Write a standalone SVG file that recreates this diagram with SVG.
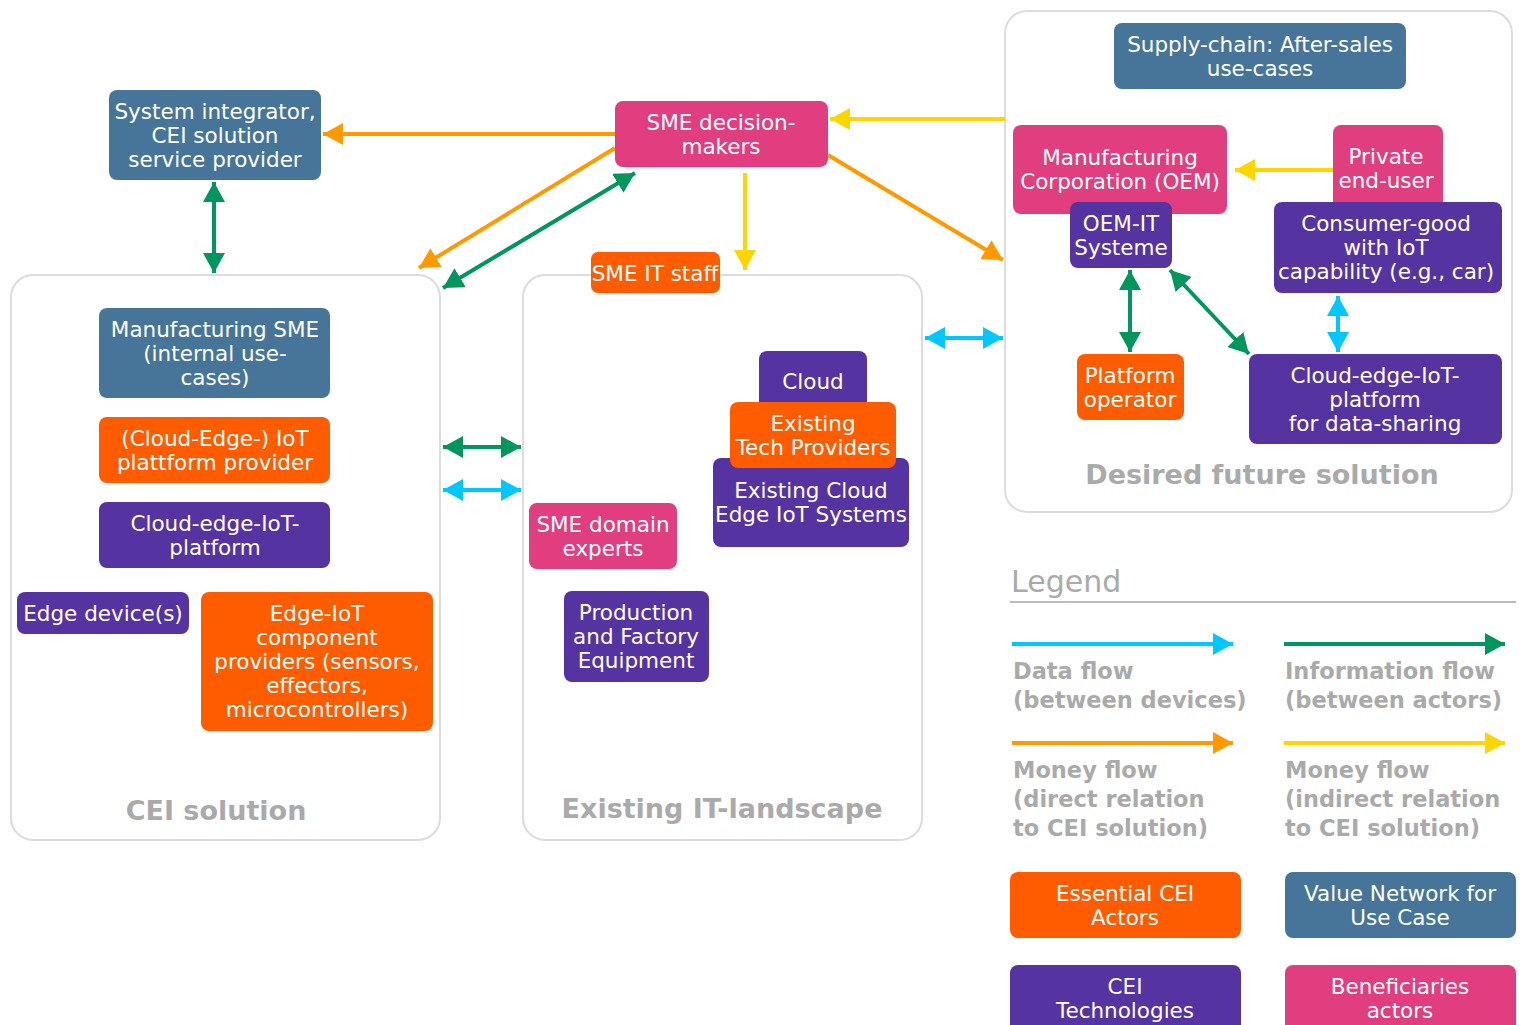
<svg xmlns="http://www.w3.org/2000/svg" width="1521" height="1025" viewBox="0 0 1521 1025">
<style>
.n text{font-family:"DejaVu Sans","Noto Sans",sans-serif;font-size:21.5px;fill:#fff;text-anchor:middle;dominant-baseline:central}
.blue{fill:#467599}.pink{fill:#e03e7e}.org{fill:#ff5c00}.pur{fill:#5533a0}
.grp{fill:#fff;stroke:#dcdcdc;stroke-width:2}
.glab{font-family:"DejaVu Sans","Noto Sans",sans-serif;font-weight:bold;font-size:27px;fill:#aaaaaa;text-anchor:middle;dominant-baseline:central}
.leg{font-family:"DejaVu Sans","Noto Sans",sans-serif;font-weight:bold;font-size:22.5px;fill:#aaaaaa;dominant-baseline:central}
.c{fill:none;stroke-width:4}
.cy{stroke:#00c8ff}.gr{stroke:#00965e}.or{stroke:#ff9900}.ye{stroke:#ffd500}
</style>
<defs>
<marker id="mcy" markerUnits="userSpaceOnUse" markerWidth="22" markerHeight="24" refX="20" refY="11" orient="auto-start-reverse"><path d="M0,0 L20,11 L0,22 z" fill="#00c8ff"/></marker>
<marker id="mgr" markerUnits="userSpaceOnUse" markerWidth="22" markerHeight="24" refX="20" refY="11" orient="auto-start-reverse"><path d="M0,0 L20,11 L0,22 z" fill="#00965e"/></marker>
<marker id="mor" markerUnits="userSpaceOnUse" markerWidth="22" markerHeight="24" refX="20" refY="11" orient="auto-start-reverse"><path d="M0,0 L20,11 L0,22 z" fill="#ff9900"/></marker>
<marker id="mye" markerUnits="userSpaceOnUse" markerWidth="22" markerHeight="24" refX="20" refY="11" orient="auto-start-reverse"><path d="M0,0 L20,11 L0,22 z" fill="#ffd500"/></marker>
</defs>
<rect width="1521" height="1025" fill="#fff"/>

<g id="groups">
<rect class="grp" x="11" y="275" width="429" height="565" rx="22"/>
<text class="glab" x="216" y="810">CEI solution</text>
<rect class="grp" x="523" y="275" width="399" height="565" rx="22"/>
<text class="glab" x="722" y="808">Existing IT-landscape</text>
<rect class="grp" x="1005" y="11" width="507" height="501" rx="22"/>
<text class="glab" x="1262" y="474">Desired future solution</text>
</g>

<g id="connectors">
<line class="c or" x1="615" y1="134" x2="323" y2="134" marker-end="url(#mor)"/>
<line class="c or" x1="615" y1="148" x2="419" y2="268" marker-end="url(#mor)"/>
<line class="c gr" x1="443" y1="288" x2="635" y2="173" marker-start="url(#mgr)" marker-end="url(#mgr)"/>
<line class="c ye" x1="745" y1="173" x2="745" y2="270" marker-end="url(#mye)"/>
<line class="c or" x1="828" y1="155" x2="1003" y2="260" marker-end="url(#mor)"/>
<line class="c ye" x1="1005" y1="119" x2="830" y2="119" marker-end="url(#mye)"/>
<line class="c gr" x1="214" y1="182" x2="214" y2="273" marker-start="url(#mgr)" marker-end="url(#mgr)"/>
<line class="c gr" x1="443" y1="447" x2="521" y2="447" marker-start="url(#mgr)" marker-end="url(#mgr)"/>
<line class="c cy" x1="443" y1="490" x2="521" y2="490" marker-start="url(#mcy)" marker-end="url(#mcy)"/>
<line class="c cy" x1="925" y1="338" x2="1003" y2="338" marker-start="url(#mcy)" marker-end="url(#mcy)"/>
<line class="c ye" x1="1333" y1="170" x2="1235" y2="170" marker-end="url(#mye)"/>
<line class="c gr" x1="1130" y1="270" x2="1130" y2="352" marker-start="url(#mgr)" marker-end="url(#mgr)"/>
<line class="c gr" x1="1170" y1="270" x2="1249" y2="354" marker-start="url(#mgr)" marker-end="url(#mgr)"/>
<line class="c cy" x1="1338" y1="296" x2="1338" y2="352" marker-start="url(#mcy)" marker-end="url(#mcy)"/>
</g>

<g id="system-integrator" class="n"><rect class="blue" x="109" y="90" width="212" height="90" rx="8"/><text x="215" y="111">System integrator,</text><text x="215" y="135">CEI solution</text><text x="215" y="159">service provider</text></g>
<g id="sme-decision-makers" class="n"><rect class="pink" x="615" y="101" width="213" height="66" rx="8"/><text x="721" y="122">SME decision-</text><text x="721" y="146">makers</text></g>
<g id="sme-it-staff" class="n"><rect class="org" x="591" y="252" width="129" height="41" rx="7"/><text x="655" y="273">SME IT staff</text></g>

<g id="manufacturing-sme" class="n"><rect class="blue" x="99" y="308" width="231" height="90" rx="8"/><text x="215" y="329">Manufacturing SME</text><text x="215" y="353">(internal use-</text><text x="215" y="377">cases)</text></g>
<g id="iot-plattform-provider" class="n"><rect class="org" x="99" y="417" width="231" height="66" rx="8"/><text x="215" y="438">(Cloud-Edge-) IoT</text><text x="215" y="462">plattform provider</text></g>
<g id="cloud-edge-iot-platform" class="n"><rect class="pur" x="99" y="502" width="231" height="66" rx="8"/><text x="215" y="523">Cloud-edge-IoT-</text><text x="215" y="547">platform</text></g>
<g id="edge-devices" class="n"><rect class="pur" x="17" y="592" width="172" height="42" rx="8"/><text x="103" y="613">Edge device(s)</text></g>
<g id="edge-iot-providers" class="n"><rect class="org" x="201" y="592" width="232" height="139" rx="8"/><text x="317" y="613">Edge-IoT</text><text x="317" y="637">component</text><text x="317" y="661">providers (sensors,</text><text x="317" y="685">effectors,</text><text x="317" y="709">microcontrollers)</text></g>

<g id="cloud" class="n"><rect class="pur" x="759" y="351" width="108" height="70" rx="8"/><text x="813" y="381">Cloud</text></g>
<g id="existing-cloud-edge-iot" class="n"><rect class="pur" x="713" y="458" width="196" height="89" rx="8"/><text x="811" y="490">Existing Cloud</text><text x="811" y="514">Edge IoT Systems</text></g>
<g id="existing-tech-providers" class="n"><rect class="org" x="730" y="402" width="166" height="66" rx="8"/><text x="813" y="423">Existing</text><text x="813" y="447">Tech Providers</text></g>
<g id="sme-domain-experts" class="n"><rect class="pink" x="529" y="503" width="148" height="66" rx="8"/><text x="603" y="524">SME domain</text><text x="603" y="548">experts</text></g>
<g id="production-equipment" class="n"><rect class="pur" x="564" y="591" width="145" height="91" rx="8"/><text x="636" y="612">Production</text><text x="636" y="636">and Factory</text><text x="636" y="660">Equipment</text></g>

<g id="supply-chain" class="n"><rect class="blue" x="1114" y="23" width="292" height="66" rx="8"/><text x="1260" y="44">Supply-chain: After-sales</text><text x="1260" y="68">use-cases</text></g>
<g id="oem" class="n"><rect class="pink" x="1013" y="125" width="214" height="89" rx="8"/><text x="1120" y="157">Manufacturing</text><text x="1120" y="181">Corporation (OEM)</text></g>
<g id="oem-it" class="n"><rect class="pur" x="1070" y="202" width="102" height="66" rx="8"/><text x="1121" y="223">OEM-IT</text><text x="1121" y="247">Systeme</text></g>
<g id="private-end-user" class="n"><rect class="pink" x="1333" y="125" width="110" height="85" rx="8"/><text x="1386" y="156">Private</text><text x="1386" y="180">end-user</text></g>
<g id="consumer-good" class="n"><rect class="pur" x="1274" y="202" width="228" height="91" rx="8"/><text x="1386" y="223">Consumer-good</text><text x="1386" y="247">with IoT</text><text x="1386" y="271">capability (e.g., car)</text></g>
<g id="platform-operator" class="n"><rect class="org" x="1077" y="354" width="107" height="66" rx="8"/><text x="1130" y="375">Platform</text><text x="1130" y="399">operator</text></g>
<g id="data-sharing-platform" class="n"><rect class="pur" x="1249" y="354" width="253" height="90" rx="8"/><text x="1375" y="375">Cloud-edge-IoT-</text><text x="1375" y="399">platform</text><text x="1375" y="423">for data-sharing</text></g>

<g id="legend">
<text x="1011" y="581" style="font-family:'DejaVu Sans',sans-serif;font-size:30px;fill:#aaaaaa;dominant-baseline:central">Legend</text>
<line x1="1010" y1="602" x2="1516" y2="602" stroke="#bbbbbb" stroke-width="2"/>
<line class="c cy" x1="1012" y1="644" x2="1233" y2="644" marker-end="url(#mcy)"/>
<line class="c gr" x1="1284" y1="644" x2="1505" y2="644" marker-end="url(#mgr)"/>
<line class="c or" x1="1012" y1="743" x2="1233" y2="743" marker-end="url(#mor)"/>
<line class="c ye" x1="1284" y1="743" x2="1505" y2="743" marker-end="url(#mye)"/>
<text class="leg" x="1013" y="671">Data flow</text><text class="leg" x="1013" y="700">(between devices)</text>
<text class="leg" x="1285" y="671">Information flow</text><text class="leg" x="1285" y="700">(between actors)</text>
<text class="leg" x="1013" y="770">Money flow</text><text class="leg" x="1013" y="799">(direct relation</text><text class="leg" x="1013" y="828">to CEI solution)</text>
<text class="leg" x="1285" y="770">Money flow</text><text class="leg" x="1285" y="799">(indirect relation</text><text class="leg" x="1285" y="828">to CEI solution)</text>
</g>
<g id="legend-essential" class="n"><rect class="org" x="1010" y="872" width="231" height="66" rx="8"/><text x="1125" y="893">Essential CEI</text><text x="1125" y="917">Actors</text></g>
<g id="legend-value-network" class="n"><rect class="blue" x="1285" y="872" width="231" height="66" rx="8"/><text x="1400" y="893">Value Network for</text><text x="1400" y="917">Use Case</text></g>
<g id="legend-technologies" class="n"><rect class="pur" x="1010" y="965" width="231" height="75" rx="8"/><text x="1125" y="986">CEI</text><text x="1125" y="1010">Technologies</text></g>
<g id="legend-beneficiaries" class="n"><rect class="pink" x="1285" y="965" width="231" height="75" rx="8"/><text x="1400" y="986">Beneficiaries</text><text x="1400" y="1010">actors</text></g>
</svg>
